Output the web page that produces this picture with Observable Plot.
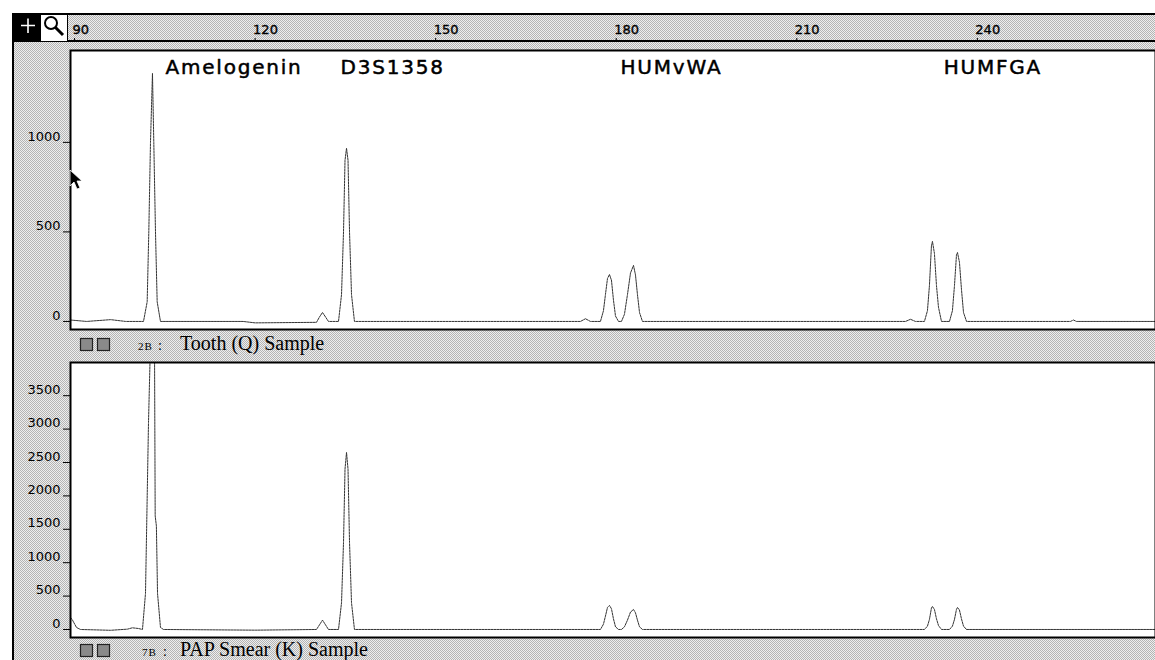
<!DOCTYPE html>
<html>
<head>
<meta charset="utf-8">
<script src="https://cdn.jsdelivr.net/npm/d3@7"></script>
<script src="https://cdn.jsdelivr.net/npm/@observablehq/plot@0.6"></script>
<style>
  body { margin: 0; background: #fff; }
  #root { position: relative; width: 1155px; height: 660px; overflow: hidden; background: #fff; font-family: "DejaVu Sans", sans-serif; }
  .pat { background: repeating-conic-gradient(#b4b4b4 0 25%, #eeeeee 0 50%) 0 0 / 2px 2px; }
  .abs { position: absolute; }
  .abs svg { display: block; max-width: none !important; }
</style>
</head>
<body>
<div id="root">
  <div id="win" class="abs pat" style="left:12px;top:13px;width:1143px;height:647px;border-left:2px solid #000;border-top:2px solid #000;box-sizing:border-box;"></div>
  <div id="rulerLine" class="abs" style="left:68px;top:40px;width:1087px;height:2px;background:#000;"></div>
  <div id="ruler" class="abs" style="left:0;top:14px;width:1158px;"></div>
  <div id="panelTop" class="abs" style="left:0;top:48px;width:1158px;"></div>
  <div id="panelBottom" class="abs" style="left:0;top:360px;width:1158px;"></div>
  <svg id="overlay" class="abs" width="1155" height="660" style="left:0;top:0;pointer-events:none;"></svg>
</div>
<script>
// ---- data ----
const xDomain = [89.33, 269.6];               // size (bp) range visible in the window
const rulerTicks = [90, 120, 150, 180, 210, 240];
const toothTicks = [0, 500, 1000];
const smearTicks = [0, 500, 1000, 1500, 2000, 2500, 3000, 3500];
const lociNames = ["Amelogenin", "D3S1358", "HUMvWA", "HUMFGA"];
const lociStart = [105.1, 134.2, 180.7, 234.4]; // bp where each locus label starts
const sampleWells = ["2B", "7B"];
const sampleNames = ["Tooth (Q) Sample", "PAP Smear (K) Sample"];

// [size (bp), signal (RFU)] read along the trace of each sample
const toothTrace = [
  [89.33, 8], [92, 0], [96, 10], [98.5, 0], [101.46, 0], [102.07, 110], [102.34, 500], [102.62, 1000],
  [102.95, 1385], [103.17, 1000], [103.45, 500], [103.73, 110], [104.28, 0], [118, 0], [120, -8],
  [130.2, -5], [130.7, 25], [131.2, 50], [131.7, 25], [132.19, 0], [133.86, 0], [134.36, 150],
  [134.69, 500], [134.94, 900], [135.19, 967], [135.44, 900], [135.69, 500], [136.02, 150], [136.51, 0],
  [174.06, 0], [174.89, 15], [175.72, 0], [177.38, 0], [177.88, 60], [178.21, 150], [178.55, 240],
  [178.88, 262], [179.21, 230], [179.54, 120], [179.88, 30], [180.38, 0], [180.87, 0], [181.37, 40],
  [181.87, 150], [182.37, 270], [182.87, 313], [183.2, 260], [183.53, 150], [183.87, 50], [184.36, 0],
  [228.06, 0], [228.89, 12], [229.72, 0], [231.21, 0], [231.71, 60], [232.04, 200], [232.37, 420],
  [232.54, 447], [232.87, 380], [233.21, 200], [233.54, 80], [234.04, 0], [235.37, 0], [235.86, 60],
  [236.2, 200], [236.53, 370], [236.7, 385], [237.03, 330], [237.36, 180], [237.7, 50], [238.2, 0],
  [255.47, 0], [255.97, 8], [256.47, 0], [269.6, 0]
];
const smearTrace = [
  [89.33, 180], [89.66, 140], [90.33, 30], [90.99, 0], [96, -12], [98.8, 5], [99.6, 25], [100.6, 15],
  [101.29, 0], [101.79, 540], [102.29, 3100], [102.62, 4300], [102.87, 4800], [103.1, 4300], [103.3, 4000],
  [103.4, 1700], [103.6, 1550], [103.79, 540], [104.28, 30], [104.78, 0], [120, -10], [130.2, 0],
  [130.7, 70], [131.2, 140], [131.7, 70], [132.19, 0], [133.86, 0], [134.36, 400], [134.69, 1300],
  [134.94, 2400], [135.19, 2650], [135.44, 2400], [135.69, 1300], [136.02, 400], [136.51, 0],
  [177.38, 0], [177.88, 80], [178.21, 200], [178.55, 330], [178.88, 360], [179.21, 310], [179.54, 160],
  [179.88, 40], [180.38, 0], [180.87, 0], [181.37, 40], [181.87, 140], [182.37, 260], [182.87, 300],
  [183.2, 250], [183.53, 140], [183.87, 40], [184.36, 0], [231.21, 0], [231.71, 50], [232.04, 150],
  [232.37, 320], [232.54, 345], [232.87, 300], [233.21, 160], [233.54, 60], [234.04, 0], [235.37, 0],
  [235.86, 50], [236.2, 150], [236.53, 300], [236.7, 330], [237.03, 290], [237.36, 160], [237.7, 50],
  [238.2, 0], [269.6, 0]
];

const baseStyle = { background: "transparent", fontFamily: "DejaVu Sans, sans-serif", fontSize: "13px", color: "#000", overflow: "visible", maxWidth: "none" };

// ---- ruler ----
const ruler = Plot.plot({
  width: 1158, height: 28, marginLeft: 70, marginRight: 3, marginTop: 0, marginBottom: 0,
  x: { domain: xDomain, axis: null },
  style: baseStyle,
  marks: [
    Plot.tickX(rulerTicks, { x: d => d, stroke: "#000", strokeWidth: 1, insetTop: 24 }),
    Plot.text(rulerTicks, { x: d => d, text: d => String(d), frameAnchor: "bottom", lineAnchor: "bottom", dy: -9, dx: -2, textAnchor: "start", fontSize: 13, fill: "#000", stroke: "#000", strokeWidth: 0.35 })
  ]
});
document.getElementById("ruler").appendChild(ruler);

// ---- panels ----
function panel(trace, ticks, yDomain, h, withLoci) {
  const data = trace.map(([bp, rfu]) => ({ bp, rfu }));
  const marks = [
    Plot.frame({ fill: "white" }),
    Plot.line(data, { x: "bp", y: "rfu", stroke: "#333", strokeWidth: 1, strokeDasharray: "2,1", clip: true }),
    Plot.frame({ stroke: "#000", strokeWidth: 2 }),
    Plot.axisY({ ticks, tickSize: 7, text: null, label: null, stroke: "#000" }),
    Plot.axisY({ ticks, tickSize: 0, tickPadding: 10, dy: -6, label: null, tickFormat: d => String(d), fontSize: 13, fill: "#000", stroke: "#000", strokeWidth: 0.35 })
  ];
  if (withLoci) {
    marks.push(Plot.text(lociNames, {
      x: (d, i) => lociStart[i], text: d => d, frameAnchor: "top", lineAnchor: "bottom", dy: 23,
      textAnchor: "start", fontSize: 20, fill: "#000", stroke: "#000", strokeWidth: 0.5
    }));
  }
  const svg = Plot.plot({
    width: 1158, height: h, marginLeft: 70, marginRight: 3, marginTop: 2, marginBottom: 3,
    x: { domain: xDomain, axis: null },
    y: { domain: yDomain, axis: null },
    style: baseStyle,
    marks
  });
  svg.querySelectorAll('g[aria-label="text"] text').forEach(t => t.setAttribute("letter-spacing", "1.8"));
  return svg;
}
document.getElementById("panelTop").appendChild(panel(toothTrace, toothTicks, [-45, 1513], 284, true));
document.getElementById("panelBottom").appendChild(panel(smearTrace, smearTicks, [-120, 3997], 280, false));

// ---- window chrome and sample strips ----
const ov = d3.select("#overlay");
// zoom tool icons
ov.append("rect").attr("x", 13).attr("y", 14).attr("width", 27).attr("height", 28).attr("fill", "#000");
ov.append("path").attr("d", "M21,25.5H35M28,18.5V33").attr("stroke", "#fff").attr("stroke-width", 1.6);
ov.append("rect").attr("x", 40.5).attr("y", 14.5).attr("width", 27).attr("height", 27).attr("fill", "#fff").attr("stroke", "#000");
ov.append("circle").attr("cx", 51).attr("cy", 23).attr("r", 6).attr("fill", "none").attr("stroke", "#000").attr("stroke-width", 2);
ov.append("path").attr("d", "M55.5,27.5L63,35").attr("stroke", "#000").attr("stroke-width", 3);
// mouse pointer
ov.append("path").attr("d", "M70,170V186L74,182L77,189L80,188L77,181L82,181Z").attr("fill", "#000").attr("stroke", "#fff").attr("stroke-width", 0.8);

const stripBase = [350, 656];
const stripWell = [138, 142];
const stripColon = [158, 163];
sampleNames.forEach((name, i) => {
  const b = stripBase[i];
  [80, 97].forEach(x => {
    ov.append("rect").attr("x", x + 0.5).attr("y", b - 11.5).attr("width", 12).attr("height", 12)
      .attr("fill", "#8a8a8a").attr("stroke", "#222").attr("stroke-width", 1.2);
  });
  ov.append("text").attr("x", stripWell[i]).attr("y", b).attr("font-family", "Liberation Serif, serif")
    .attr("font-size", 11).attr("letter-spacing", 1).attr("fill", "#000").text(sampleWells[i]);
  ov.append("text").attr("x", stripColon[i]).attr("y", b).attr("font-family", "Liberation Serif, serif")
    .attr("font-size", 14).attr("fill", "#000").text(":");
  ov.append("text").attr("x", 180).attr("y", b).attr("font-family", "Liberation Serif, serif")
    .attr("font-size", 20).attr("fill", "#000").text(name);
});
</script>
</body>
</html>
